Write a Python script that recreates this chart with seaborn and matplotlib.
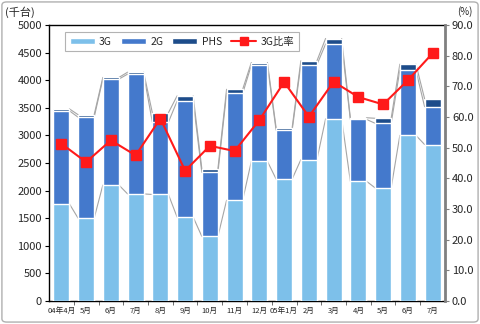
import matplotlib
matplotlib.use("Agg")
import matplotlib.pyplot as plt
import seaborn as sns
import numpy as np
import pandas as pd
from matplotlib.patches import FancyBboxPatch, Patch
from matplotlib.lines import Line2D
from matplotlib.ticker import MultipleLocator, FixedLocator

sns.set_theme(style="white")
plt.rcParams['font.family'] = ['Noto Sans CJK JP', 'DejaVu Sans']

months = ["04年4月", "5月", "6月", "7月", "8月", "9月", "10月", "11月", "12月",
          "05年1月", "2月", "3月", "4月", "5月", "6月", "7月"]
g3 = [1760, 1500, 2100, 1940, 1930, 1520, 1170, 1825, 2530, 2210, 2560, 3300, 2170, 2050, 3000, 2835]
g2 = [1685, 1830, 1920, 2170, 1310, 2100, 1160, 1935, 1740, 885, 1720, 1355, 1120, 1170, 1180, 685]
phs = [35, 45, 30, 35, 170, 95, 65, 75, 50, 45, 70, 100, 30, 90, 110, 145]
ratio = [51.3, 45.3, 52.4, 47.5, 59.5, 42.5, 50.6, 48.9, 59.0, 71.4, 60.1, 71.5, 66.5, 64.1, 72.0, 80.8]

c3g = "#7dc0ea"
c2g = "#4479cc"
cphs = "#1d4c8a"
cred = "#ff1a1a"

n = len(months)
df = pd.DataFrame({"key": [f"{i:02d}" for i in range(n)], "month": months,
                   "g3": g3, "g2": g2, "phs": phs, "ratio": ratio})
df["c2"] = df["g3"] + df["g2"]
df["tot"] = df["c2"] + df["phs"]

fig = plt.figure(figsize=(4.8, 3.24), dpi=100)
ax = fig.add_axes([49/480, 1-301/324, (445-49)/480, (301-25)/324])

w = 0.65
kw = dict(data=df, x="key", width=w, saturation=1, ax=ax, errorbar=None, order=list(df["key"]))
sns.barplot(y="tot", color=cphs, zorder=2, **kw)
sns.barplot(y="c2", color=c2g, zorder=3, **kw)
sns.barplot(y="g3", color=c3g, zorder=4, **kw)

# series lines connecting segment tops
for col in ["g3", "c2", "tot"]:
    v = df[col].values
    for i in range(len(v) - 1):
        ax.plot([i + w/2, i + 1 - w/2], [v[i], v[i+1]], color="#a6a6a6", lw=0.8, zorder=1)

ax.set_xlim(-0.5, n - 0.5)
ax.set_ylim(0, 5000)
ax.set_xticks(np.arange(n))
ax.set_xticklabels(months)
ax.yaxis.set_major_locator(MultipleLocator(500))
ax.set_xlabel("")
ax.set_ylabel("")
ax.tick_params(axis="y", labelsize=8, length=3, width=0.8, color="black", pad=2, left=True, direction="out")
ax.tick_params(axis="x", which="major", labelsize=5.5, length=0, pad=4)
ax.xaxis.set_minor_locator(FixedLocator(np.arange(0.5, n - 0.5, 1)))
ax.tick_params(axis="x", which="minor", length=3, width=0.6, color="#555555", bottom=True, direction="out")
for s in ["left", "bottom", "top"]:
    ax.spines[s].set_color("black")
    ax.spines[s].set_linewidth(1.0)
ax.spines["right"].set_visible(False)

ax2 = ax.twinx()
ax2.plot(np.arange(n), df["ratio"].values, color=cred, lw=1.5, marker="s",
         markersize=7, markerfacecolor=cred, markeredgecolor=cred, zorder=5)
ax2.set_ylim(0, 90)
ax2.yaxis.set_major_locator(MultipleLocator(10))
ax2.yaxis.set_major_formatter(matplotlib.ticker.FormatStrFormatter("%.1f"))
ax2.tick_params(axis="y", labelsize=8, length=3, width=0.8, color="#808080", pad=2, right=True, direction="out")
ax2.spines["right"].set_color("#808080")
ax2.spines["right"].set_linewidth(2.0)
for s in ["left", "bottom", "top"]:
    ax2.spines[s].set_visible(False)
ax2.set_xlim(-0.5, n - 0.5)

handles = [Patch(facecolor=c3g, label="3G"), Patch(facecolor=c2g, label="2G"),
           Patch(facecolor=cphs, label="PHS"),
           Line2D([0], [0], color=cred, lw=1.5, marker="s", markersize=6, label="3G比率")]
leg = ax2.legend(handles=handles, loc="upper left", bbox_to_anchor=(0.04, 0.975), ncol=4,
                 fontsize=7.5, frameon=True, fancybox=False, edgecolor="#a0a0a0",
                 handlelength=2.4, handleheight=0.6, columnspacing=0.9, handletextpad=0.4,
                 borderpad=0.45, borderaxespad=0)
leg.get_frame().set_linewidth(0.8)

fig.text(5/480, 1-12/324, "(千台)", fontsize=8, va="center", ha="left")
fig.text(472/480, 1-12/324, "(%)", fontsize=7, va="center", ha="right")

border = FancyBboxPatch((0.004, 0.006), 0.992, 0.988, boxstyle="round,pad=0,rounding_size=0.01",
                        transform=fig.transFigure, facecolor="none", edgecolor="#b0b0b0", lw=1.0)
fig.patches.append(border)

fig.savefig("out.png", dpi=100)
